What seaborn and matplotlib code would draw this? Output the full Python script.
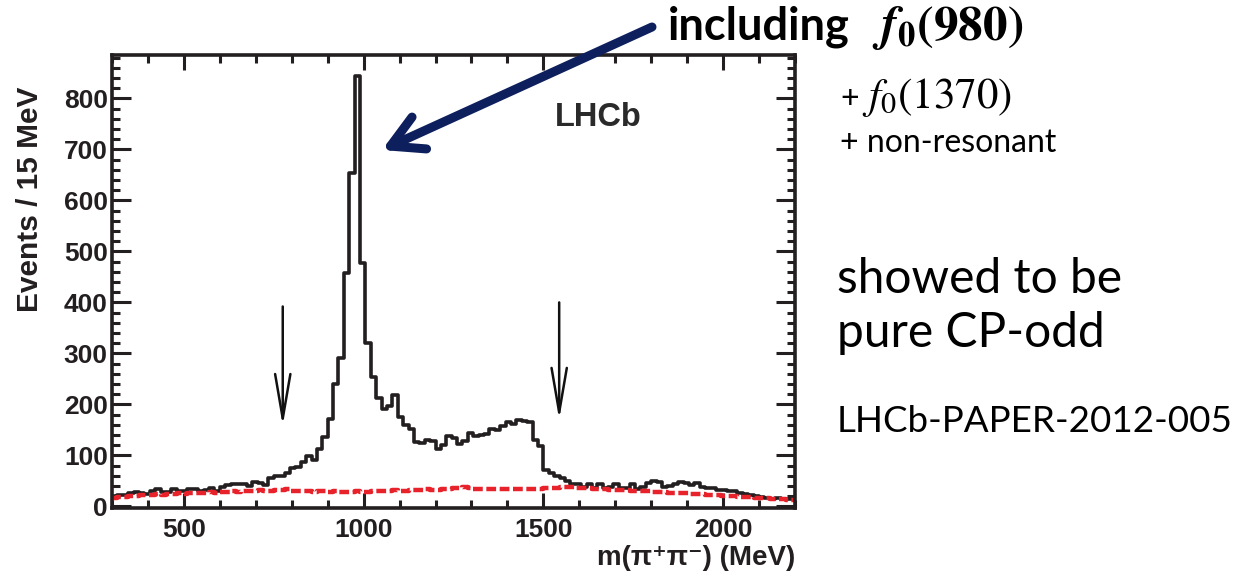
import numpy as np
import pandas as pd
import matplotlib
matplotlib.use("Agg")
import matplotlib.pyplot as plt
import seaborn as sns
from matplotlib.patches import FancyArrowPatch

# ---------------- data ----------------
bin_width = 15
bin_start = 300
signal_counts = [
    20, 22, 22, 26, 28, 26, 24, 30, 34, 28,
    28, 34, 30, 30, 34, 34, 30, 32, 36, 30,
    38, 42, 44, 44, 44, 40, 48, 46, 42, 56,
    60, 60, 66, 76, 78, 88, 98, 92, 112, 136,
    172, 240, 292, 457, 654, 843, 477, 320, 254, 212,
    192, 196, 218, 175, 160, 152, 127, 125, 130, 128,
    112, 120, 138, 134, 122, 128, 145, 138, 140, 142,
    152, 150, 158, 165, 162, 170, 168, 165, 130, 118,
    72, 66, 60, 55, 50, 44, 44, 38, 45, 36,
    44, 36, 38, 44, 36, 36, 44, 34, 38, 46,
    50, 48, 38, 40, 44, 48, 46, 42, 46, 38,
    36, 36, 32, 32, 30, 30, 26, 25, 22, 20,
    18, 16, 15, 16, 15, 14, 14,
]
background_counts = [
    16, 18, 18, 20, 20, 22, 22, 22, 24, 22,
    24, 24, 26, 24, 26, 26, 26, 26, 28, 26,
    28, 28, 30, 28, 30, 30, 30, 32, 30, 30,
    32, 32, 34, 30, 30, 30, 30, 28, 30, 30,
    28, 30, 28, 28, 28, 30, 28, 28, 30, 30,
    30, 30, 32, 30, 30, 32, 32, 32, 34, 32,
    32, 34, 34, 36, 36, 38, 36, 34, 34, 34,
    34, 34, 34, 34, 34, 34, 34, 34, 34, 34,
    36, 36, 36, 38, 38, 38, 36, 36, 36, 34,
    34, 34, 32, 32, 32, 32, 30, 30, 30, 30,
    28, 28, 28, 26, 26, 26, 26, 24, 24, 24,
    22, 22, 22, 20, 20, 20, 18, 18, 18, 16,
    16, 16, 14, 14, 14, 12, 12,
]
x_ticks = [500, 1000, 1500, 2000]
y_ticks = [0, 100, 200, 300, 400, 500, 600, 700, 800]
arrow_positions = [775, 1544]
arrow_tops = [392, 400]
arrow_tips = [158, 170]

n_bins = len(signal_counts)
edges = [float(bin_start + bin_width * i) for i in range(n_bins + 1)]
centers = [e + bin_width / 2 for e in edges[:-1]]
df = pd.DataFrame({"mass": centers, "signal": signal_counts,
                   "background": background_counts})

# ---------------- figure ----------------
sns.set_theme(style="ticks")
plt.rcParams["font.family"] = ["Liberation Sans", "DejaVu Sans"]
plt.rcParams["mathtext.fontset"] = "stix"

W, H = 1235, 578
fig = plt.figure(figsize=(W / 100, H / 100), dpi=100)
fig.patch.set_facecolor("white")
ax = fig.add_axes([112 / W, (H - 508) / H, (795 - 112) / W, (508 - 55) / H])
ax.set_facecolor("white")

sns.histplot(data=df, x="mass", weights="signal", bins=edges, element="step",
             fill=False, color="#231f20", linewidth=2.6, ax=ax)
sns.histplot(data=df, x="mass", weights="background", bins=edges,
             element="step", fill=False, color="#e8222b", linewidth=3.2,
             linestyle=(0, (2.2, 0.8)), ax=ax)

ax.set_xlim(300, 2200)
ax.set_ylim(-3, 885)
ax.set_xticks(x_ticks)
ax.set_xticks(np.arange(300, 2201, 100), minor=True)
ax.set_yticks(y_ticks)
ax.set_yticks(np.arange(0, 881, 20), minor=True)
ax.set_xticklabels([str(v) for v in x_ticks])
ax.set_yticklabels([str(v) for v in y_ticks])
ax.tick_params(which="both", direction="in", top=True, right=True,
               width=2.2, color="#231f20")
ax.tick_params(which="major", length=11, labelsize=19)
ax.tick_params(axis="x", which="major", pad=7)
ax.tick_params(axis="y", which="major", length=14, pad=3)
ax.tick_params(which="minor", length=5.5)
for lab in ax.get_xticklabels() + ax.get_yticklabels():
    lab.set_fontweight("bold")
    lab.set_color("#231f20")
for sp in ax.spines.values():
    sp.set_linewidth(2.6)
    sp.set_color("#231f20")
    sp.set_visible(True)

ax.set_xlabel("m(π⁺π⁻) (MeV)", fontsize=20, fontweight="bold",
              color="#231f20", loc="right")
ax.xaxis.set_label_coords(1.0, -0.082)
ax.set_ylabel("Events / 15 MeV", fontsize=21.5, fontweight="bold",
              color="#231f20")
ax.yaxis.set_label_coords(-0.10, 0.682)

ax.text(1653, 763, "LHCb", fontsize=23.5, fontweight="bold",
        color="#2a2a2a", ha="center", va="center")

for xp, yt, yb in zip(arrow_positions, arrow_tops, arrow_tips):
    ax.add_patch(FancyArrowPatch((xp, yt), (xp, yb),
                                 arrowstyle="->,head_length=3.2,head_width=0.55",
                                 mutation_scale=10, lw=1.8, color="#111111",
                                 shrinkA=0, shrinkB=0))

# big navy arrow in figure pixel coords
def fx(px):
    return px / W

def fy(py):
    return 1 - py / H

big = FancyArrowPatch((fx(652), fy(27)), (fx(382), fy(150)),
                      transform=fig.transFigure,
                      arrowstyle="->,head_length=1.9,head_width=1.05",
                      mutation_scale=12, lw=6.5, color="#0d1f5c",
                      capstyle="round", joinstyle="round",
                      shrinkA=0, shrinkB=0)
big.set_clip_on(False)
fig.patches.append(big)

slide_font = ["Lato", "DejaVu Sans"]
fig.text(fx(668), fy(40), "including", fontsize=32.5, fontweight="bold",
         family=slide_font, ha="left", va="baseline", color="black")
fig.text(fx(872), fy(40), r"$\mathbfit{f}_{\mathbf{0}}\mathbf{(980)}$",
         fontsize=35.5, ha="left", va="baseline", color="black")
fig.text(fx(840), fy(108), "+", fontsize=23, family=slide_font,
         ha="left", va="baseline", color="black")
fig.text(fx(862), fy(108), r"$f_0(1370)$", fontsize=31,
         ha="left", va="baseline", color="black")
fig.text(fx(840), fy(152), "+ non-resonant", fontsize=23, family=slide_font,
         ha="left", va="baseline", color="black")
fig.text(fx(837), fy(293), "showed to be", fontsize=34.5, family=slide_font,
         ha="left", va="baseline", color="black")
fig.text(fx(837), fy(347), "pure CP-odd", fontsize=34.5, family=slide_font,
         ha="left", va="baseline", color="black")
fig.text(fx(837), fy(432), "LHCb-PAPER-2012-005", fontsize=26.5,
         family=slide_font, ha="left", va="baseline", color="black")

fig.savefig("out.png", dpi=100, facecolor="white")
